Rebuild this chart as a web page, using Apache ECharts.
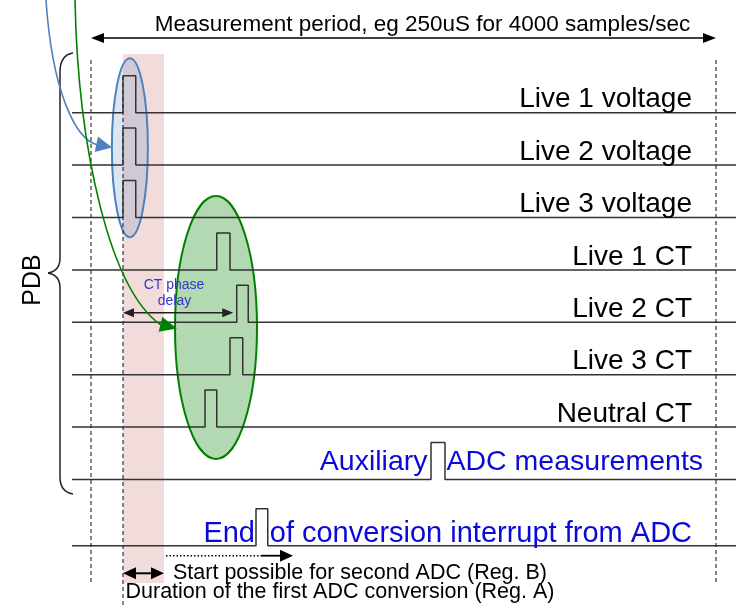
<!DOCTYPE html>
<html><head><meta charset="utf-8">
<script src="https://cdn.jsdelivr.net/npm/echarts@6/dist/echarts.min.js"></script>
<style>html,body{margin:0;padding:0;background:#fff}#c{width:740px;height:606px}</style>
</head><body><div id="c"></div>
<script>
// ---- data ----
// channel rows, top to bottom
const channels = ['Live 1 voltage','Live 2 voltage','Live 3 voltage','Live 1 CT','Live 2 CT','Live 3 CT','Neutral CT','Auxiliary ADC measurements','End of conversion interrupt from ADC'];
// start of each channel's sampling pulse inside the measurement period (µs)
const pulseStart = [12.8, 12.8, 12.8, 50.3, 58.3, 55.6, 45.6, 136.0, 66.0];
// width of each pulse (µs)
const pulseWidth = [5.1, 5.1, 5.1, 5.3, 4.6, 5.1, 4.7, 5.6, 4.7];
const periodUs = 250;        // measurement period
const firstAdcUs = 12.8;     // first ADC conversion start
const adcConvUs = 16.4;      // duration of first ADC conversion (Reg. A)
const ctDelayEndUs = 56.9;   // end of CT phase delay
const secondAdcUs = 80.8;    // start possible for second ADC (Reg. B)
const titleText = 'Measurement period, eg 250uS for 4000 samples/sec';
const sideLabel = 'PDB';
const ctDelayText = ['CT phase', 'delay'];
const bottomText = ['Start possible for second ADC (Reg. B)', 'Duration of the first ADC conversion (Reg. A)'];

// ---- layout ----
const rowY = i => i < 8 ? 112.7 + i * 52.4 : 545.7;
const PULSE_H = 37;
const LINE_T0 = -7.6, LINE_T1 = 258;

const chart = echarts.init(document.getElementById('c'), null, {renderer: 'canvas'});
const series = channels.map((name, i) => {
  const y = rowY(i), t = pulseStart[i], w = pulseWidth[i];
  return {
    type: 'line', name, z: 3, silent: true, animation: false, symbol: 'none',
    lineStyle: {color: '#333', width: 1.5},
    data: [[LINE_T0, y], [t, y], [t, y - PULSE_H], [t + w, y - PULSE_H], [t + w, y], [LINE_T1, y]]
  };
});
chart.setOption({
  animation: false,
  grid: {left: 0, right: 0, top: 0, bottom: 0},
  xAxis: {type: 'value', min: -36.4, max: 259.6, show: false},
  yAxis: {type: 'value', min: 0, max: 606, inverse: true, show: false},
  series
});

const P = (t, y) => chart.convertToPixel({gridIndex: 0}, [t, y]);
const X = t => P(t, 0)[0];
const F = '"Liberation Sans", Arial, Helvetica, sans-serif';
function txt(text, x, y, size, color, align, extra) {
  return Object.assign({type: 'text', z: 10, silent: true, style: {text, x, y, font: size + 'px ' + F, fill: color,
    textAlign: align, align: align, textVerticalAlign: 'middle', verticalAlign: 'middle'}}, extra || {});
}
function line(x1, y1, x2, y2, color, w, dash, z) {
  return {type: 'line', z: z || 6, silent: true, shape: {x1, y1, x2, y2}, style: {stroke: color, lineWidth: w, lineDash: dash || null, fill: null}};
}
function head(tx, ty, dx, dy, len, half, color, z) {
  const n = Math.hypot(dx, dy); dx /= n; dy /= n;
  const bx = tx - dx * len, by = ty - dy * len;
  return {type: 'polygon', z: z || 7, silent: true, shape: {points: [[tx, ty], [bx - dy * half, by + dx * half], [bx + dy * half, by - dx * half]]}, style: {fill: color}};
}
function curve(x1, y1, cpx1, cpy1, cpx2, cpy2, x2, y2, color, w, z) {
  const shape = {x1, y1, x2, y2, cpx1, cpy1};
  if (cpx2 != null) { shape.cpx2 = cpx2; shape.cpy2 = cpy2; }
  return {type: 'bezierCurve', z: z || 8, silent: true, shape, style: {stroke: color, lineWidth: w, fill: null}};
}

const g = [];
const xL = X(0), xR = X(periodUs), xA = X(firstAdcUs), xB = X(firstAdcUs + adcConvUs);
// pink band: first ADC conversion
g.push({type: 'rect', z: 0, silent: true, shape: {x: xA, y: 54, width: xB - xA, height: 583 - 54}, style: {fill: '#f2dcdb'}});
// ellipses
const vC = X(pulseStart[0] + pulseWidth[0] / 2);
g.push({type: 'ellipse', z: 1, silent: true, shape: {cx: vC + 0.5, cy: 147.7, rx: 18, ry: 89.5}, style: {fill: 'rgba(79,129,189,0.2)', stroke: '#4f81bd', lineWidth: 2}});
g.push({type: 'ellipse', z: 1, silent: true, shape: {cx: 216, cy: 327.5, rx: 41, ry: 131.5}, style: {fill: 'rgba(0,128,0,0.3)', stroke: '#008000', lineWidth: 2}});
// dashed verticals
g.push(line(xL, 60, xL, 583, '#333', 1.2, [4, 3], 4));
g.push(line(xR, 60, xR, 583, '#333', 1.2, [4, 3], 4));
g.push(line(xA, 76, xA, 606, '#333', 1.2, [4, 3], 4));
// top period arrow
g.push(line(xL + 8, 38, xR - 8, 38, '#000', 1.5));
g.push(head(xL, 38, -1, 0, 13, 5, '#000'));
g.push(head(xR, 38, 1, 0, 13, 5, '#000'));
g.push(txt(titleText, 422.5, 24.5, 22.5, '#000', 'center'));
// brace
const bc = '#222';
g.push(curve(73, 53, 60, 55, null, null, 60, 72, bc, 1.5, 5));
g.push(line(60, 72, 60, 258, bc, 1.5, null, 5));
g.push(curve(60, 258, 60, 271, null, null, 48, 273, bc, 1.5, 5));
g.push(curve(48, 273, 60, 275, null, null, 60, 288, bc, 1.5, 5));
g.push(line(60, 288, 60, 477, bc, 1.5, null, 5));
g.push(curve(60, 477, 60, 492, null, null, 73, 494, bc, 1.5, 5));
g.push({type: 'text', z: 10, silent: true, rotation: Math.PI / 2, x: 33, y: 280,
  style: {text: sideLabel, x: 0, y: 0, font: '25px ' + F, fill: '#000', textAlign: 'center', align: 'center', textVerticalAlign: 'middle', verticalAlign: 'middle'}});
// curved arrows
g.push(curve(46, 0, 52, 90, 75, 140, 98, 145, '#4f81bd', 1.6));
g.push(head(112, 147.5, 12, 2.5, 16, 8, '#4f81bd', 8));
g.push(curve(75, 0, 78, 150, 110, 290, 161, 325, '#008000', 1.6));
g.push(head(177, 328.5, 14, 3.5, 17, 7.5, '#008000', 8));
// CT phase delay
const xD = X(ctDelayEndUs);
g.push(line(xA + 8, 312.7, xD - 8, 312.7, '#222', 1.5, null, 7));
g.push(head(xA, 312.7, -1, 0, 11, 4.5, '#222'));
g.push(head(xD, 312.7, 1, 0, 11, 4.5, '#222'));
g.push(txt(ctDelayText[0], 174, 285.5, 14, '#3535c8', 'center'));
g.push(txt(ctDelayText[1], 174.5, 301.5, 14, '#3535c8', 'center'));
// channel labels
for (let i = 0; i < 7; i++) g.push(txt(channels[i], 692, rowY(i) - 13, 28, '#000', 'right'));
const blue = '#0a0ad8';
{
  const i = 7, p0 = X(pulseStart[i]), p1 = X(pulseStart[i] + pulseWidth[i]);
  const k = channels[i].indexOf(' ');
  g.push(txt(channels[i].slice(0, k), p0 - 3.5, 462.5, 28.5, blue, 'right'));
  g.push(txt(channels[i].slice(k + 1), p1 + 1.5, 462.5, 28.5, blue, 'left'));
}
{
  const i = 8, p0 = X(pulseStart[i]), p1 = X(pulseStart[i] + pulseWidth[i]);
  const k = channels[i].indexOf(' ');
  g.push(txt(channels[i].slice(0, k), p0 - 1, 533.5, 29, blue, 'right'));
  g.push(txt(channels[i].slice(k + 1), p1 + 2, 533.5, 29, blue, 'left'));
}
// bottom annotations
const x2 = X(secondAdcUs);
g.push(line(xB + 2, 555.7, x2 - 31, 555.7, '#000', 1.5, [1.5, 2]));
g.push(line(x2 - 31, 555.7, x2 - 10, 555.7, '#000', 1.8));
g.push(head(x2, 555.7, 1, 0, 13, 6, '#000'));
g.push(line(xA + 10, 573.3, xB - 10, 573.3, '#000', 2));
g.push(head(xA, 573.3, -1, 0, 13, 6, '#000'));
g.push(head(xB, 573.3, 1, 0, 13, 6, '#000'));
g.push(txt(bottomText[0], 173, 573, 21.5, '#000', 'left'));
g.push(txt(bottomText[1], 125.5, 592.5, 21.5, '#000', 'left'));

chart.setOption({graphic: g});
</script></body></html>
